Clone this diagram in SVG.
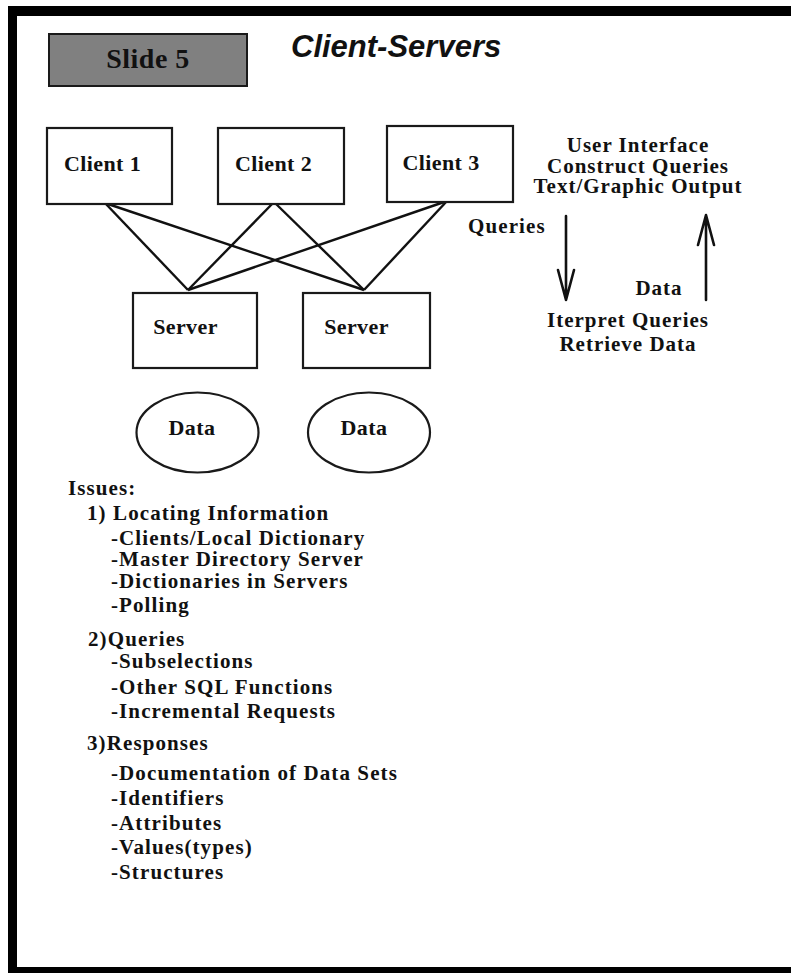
<svg xmlns="http://www.w3.org/2000/svg" width="791" height="973" viewBox="0 0 791 973">
  <style>
    .box { fill: #ffffff; stroke: #1a1a1a; stroke-width: 2.2; }
    .link { stroke: #111111; stroke-width: 2.4; fill: none; }
    .arrow { stroke: #111111; stroke-width: 2.6; fill: none; stroke-linecap: round; stroke-linejoin: round; }
    .lbl { font-family: "Liberation Serif", "Times New Roman", serif; font-weight: bold; fill: #111111; }
    .node { font-size: 22px; letter-spacing: 0.4px; text-anchor: middle; }
    .side { font-size: 21px; letter-spacing: 1px; text-anchor: middle; }
    .body { font-size: 21px; letter-spacing: 1.1px; }
    .title { font-family: "Liberation Sans", Arial, sans-serif; font-weight: bold; font-style: italic; font-size: 31px; fill: #111111; }
  </style>

  <rect width="791" height="973" fill="#ffffff"/>

  <!-- page frame: heavy left, top and bottom rules -->
  <g id="frame" fill="#000000">
    <rect x="8" y="6" width="783" height="10"/>
    <rect x="8" y="6" width="9" height="967"/>
    <rect x="8" y="967" width="783" height="6"/>
  </g>

  <!-- header -->
  <g id="slide-tag">
    <rect x="49" y="34" width="198" height="52" fill="#808080" stroke="#1a1a1a" stroke-width="2"/>
    <text class="lbl" x="148" y="68" font-size="28" letter-spacing="0.5" text-anchor="middle">Slide 5</text>
  </g>
  <text id="title" class="title" x="291" y="57">Client-Servers</text>

  <!-- connectors between clients and servers -->
  <g id="connectors">
    <line class="link" x1="105" y1="203" x2="188" y2="290"/>
    <line class="link" x1="105" y1="203" x2="364" y2="290"/>
    <line class="link" x1="274" y1="202" x2="188" y2="290"/>
    <line class="link" x1="274" y1="202" x2="364" y2="290"/>
    <line class="link" x1="447" y1="201" x2="188" y2="290"/>
    <line class="link" x1="447" y1="201" x2="364" y2="290"/>
    <!-- query / data flow arrows -->
    <path class="arrow" d="M566 216 V300 M558 270 L566 300 L574 270"/>
    <path class="arrow" d="M706 300 V215 M698 245 L706 215 L714 245"/>
  </g>

  <!-- clients -->
  <g id="client1">
    <rect class="box" x="47" y="128" width="125" height="76"/>
    <text class="lbl node" x="102.5" y="171">Client 1</text>
  </g>
  <g id="client2">
    <rect class="box" x="218" y="128" width="126" height="76"/>
    <text class="lbl node" x="273.5" y="171">Client 2</text>
  </g>
  <g id="client3">
    <rect class="box" x="387" y="126" width="126" height="76"/>
    <text class="lbl node" x="441" y="170">Client 3</text>
  </g>

  <!-- servers -->
  <g id="server1">
    <rect class="box" x="133" y="293" width="124" height="75"/>
    <text class="lbl node" x="185.5" y="334">Server</text>
  </g>
  <g id="server2">
    <rect class="box" x="303" y="293" width="127" height="75"/>
    <text class="lbl node" x="356.5" y="334">Server</text>
  </g>

  <!-- data stores -->
  <g id="data1">
    <ellipse class="box" cx="197.5" cy="432.5" rx="61" ry="40"/>
    <text class="lbl node" x="192" y="435">Data</text>
  </g>
  <g id="data2">
    <ellipse class="box" cx="369" cy="432.5" rx="61" ry="40"/>
    <text class="lbl node" x="364" y="435">Data</text>
  </g>

  <!-- client / server role notes -->
  <g id="client-role">
    <text class="lbl side" x="638" y="152">User Interface</text>
    <text class="lbl side" x="638" y="172.5">Construct Queries</text>
    <text class="lbl side" x="638" y="193">Text/Graphic Output</text>
  </g>
  <text id="queries-label" class="lbl body" x="468" y="233">Queries</text>
  <text id="data-label" class="lbl side" x="659" y="295">Data</text>
  <g id="server-role">
    <text class="lbl side" x="628" y="327">Iterpret Queries</text>
    <text class="lbl side" x="628" y="351">Retrieve Data</text>
  </g>

  <!-- issues list -->
  <g id="issues" class="lbl body">
    <text x="68" y="495">Issues:</text>
    <text x="87" y="519.5">1) Locating Information</text>
    <text x="111" y="545">-Clients/Local Dictionary</text>
    <text x="111" y="566">-Master Directory Server</text>
    <text x="111" y="587.5">-Dictionaries in Servers</text>
    <text x="111" y="611.5">-Polling</text>
    <text x="88" y="645.5">2)Queries</text>
    <text x="111" y="667.5">-Subselections</text>
    <text x="111" y="694">-Other SQL Functions</text>
    <text x="111" y="718">-Incremental Requests</text>
    <text x="87" y="750">3)Responses</text>
    <text x="111" y="780">-Documentation of Data Sets</text>
    <text x="111" y="804.5">-Identifiers</text>
    <text x="111" y="829.5">-Attributes</text>
    <text x="111" y="854">-Values(types)</text>
    <text x="111" y="879">-Structures</text>
  </g>
</svg>
